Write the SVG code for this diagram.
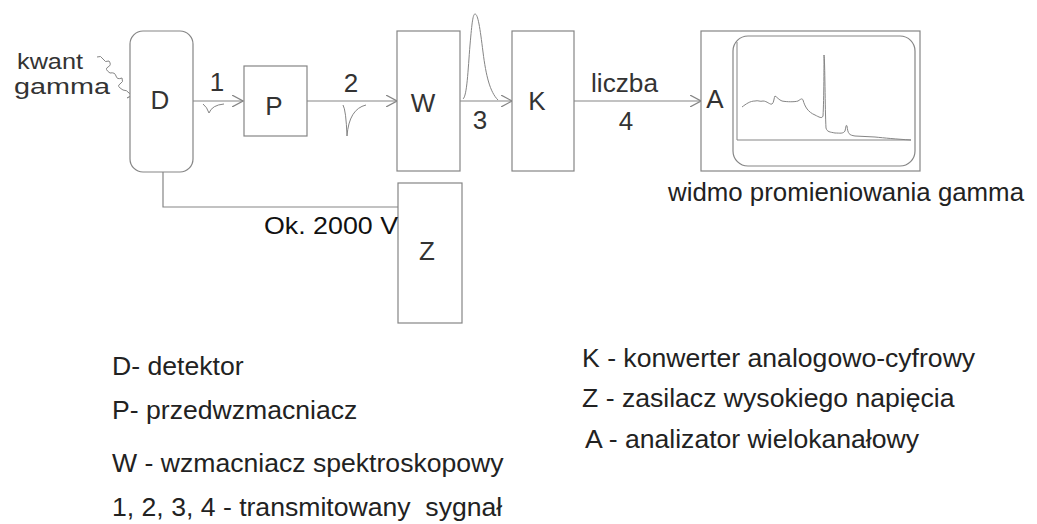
<svg xmlns="http://www.w3.org/2000/svg" width="1037" height="524" viewBox="0 0 1037 524">
  <style>
    .box { fill: #ffffff; stroke: #858585; stroke-width: 1.2; }
    .wire { fill: none; stroke: #858585; stroke-width: 1.2; }
    .sig { fill: none; stroke: #858585; stroke-width: 1; }
    .lbl { font-family: "Liberation Sans", Arial, sans-serif; font-size: 26px; fill: #333333; }
    .leg { font-family: "Liberation Sans", Arial, sans-serif; font-size: 26.6px; fill: #222222; }
  </style>
  <defs>
    <marker id="open" viewBox="0 0 12 12" refX="11" refY="6" markerWidth="12" markerHeight="12" markerUnits="userSpaceOnUse" orient="auto">
      <path d="M0,0 L11,6 L0,12" fill="none" stroke="#858585" stroke-width="1.2"/>
    </marker>
    <marker id="barb" viewBox="0 0 10 10" refX="9" refY="5" markerWidth="10" markerHeight="10" markerUnits="userSpaceOnUse" orient="auto">
      <path d="M9,5 L3,10 M9,5 L0,5" fill="none" stroke="#858585" stroke-width="1"/>
    </marker>
  </defs>
  <rect width="1037" height="524" fill="#ffffff"/>

  <!-- incoming gamma quantum -->
  <g id="gamma-in">
    <text class="lbl" x="17" y="69" style="font-size:22px" textLength="66" lengthAdjust="spacingAndGlyphs">kwant</text>
    <text class="lbl" x="14" y="94" style="font-size:22px" textLength="96" lengthAdjust="spacingAndGlyphs">gamma</text>
  </g>

  <!-- connectors -->
  <g id="connectors">
    <path class="sig" d="M97,57 q4,-2 6,2 t6,2 q3,4 -1,6 t2,6 q5,-1 6,3 t6,2 q2,4 -2,6 t3,6 q4,0 6,3 t6,1" marker-end="url(#barb)"/>
    <line class="wire" x1="193" y1="101" x2="243" y2="101" marker-end="url(#open)"/>
    <line class="wire" x1="307" y1="101" x2="397" y2="101" marker-end="url(#open)"/>
    <line class="wire" x1="460" y1="101" x2="512" y2="101" marker-end="url(#open)"/>
    <line class="wire" x1="574" y1="101" x2="701" y2="101" marker-end="url(#open)"/>
    <polyline class="wire" points="163,172 163,207 399,207"/>
  </g>

  <!-- signal shapes and numbers -->
  <g id="signals">
    <text class="lbl" x="217" y="91" text-anchor="middle">1</text>
    <path class="sig" d="M203,104 Q207,107 209,113 Q212,105 224,104"/>
    <text class="lbl" x="351" y="92" text-anchor="middle">2</text>
    <path class="sig" d="M343,105 Q346,110 347,136 Q349,109 366,105"/>
    <path class="sig" d="M463,99 C467,96 468,70 470,45 C472,22 473,14 475,14 C478,14 480,28 483,52 C486,76 490,92 498,100"/>
    <text class="lbl" x="480" y="129" text-anchor="middle">3</text>
    <text class="lbl" x="591" y="92" textLength="67" lengthAdjust="spacingAndGlyphs">liczba</text>
    <text class="lbl" x="626" y="130" text-anchor="middle">4</text>
  </g>

  <!-- D: detector -->
  <g id="D">
    <rect class="box" x="130" y="31" width="63" height="141" rx="13"/>
    <text class="lbl" x="160" y="109" text-anchor="middle">D</text>
  </g>

  <!-- P: preamplifier -->
  <g id="P">
    <rect class="box" x="244" y="66" width="63" height="70"/>
    <text class="lbl" x="274" y="115" text-anchor="middle">P</text>
  </g>

  <!-- W: spectroscopy amplifier -->
  <g id="W">
    <rect class="box" x="397" y="31" width="63" height="140"/>
    <text class="lbl" x="423" y="112" text-anchor="middle">W</text>
  </g>

  <!-- K: ADC -->
  <g id="K">
    <rect class="box" x="512" y="31" width="62" height="140"/>
    <text class="lbl" x="537" y="110" text-anchor="middle">K</text>
  </g>

  <!-- Z: high voltage supply -->
  <g id="Z">
    <rect class="box" x="398" y="183" width="64" height="140"/>
    <text class="lbl" x="427" y="260" text-anchor="middle">Z</text>
    <text x="264" y="234" font-family="Liberation Sans, Arial, sans-serif" font-size="24" fill="#111111" textLength="134" lengthAdjust="spacingAndGlyphs">Ok. 2000 V</text>
  </g>

  <!-- A: multichannel analyser with spectrum display -->
  <g id="A">
    <rect class="box" x="701" y="31" width="219" height="140"/>
    <text class="lbl" x="715" y="108" text-anchor="middle">A</text>
    <rect class="box" x="733" y="36" width="182" height="130" rx="15"/>
    <polyline class="sig" points="737,42 737,140 911,140"/>
    <path class="sig" d="M742,107 C746,104 750,101 755,101 C758,100 760,102 763,101 C767,101 770,105 772,104 C774,103 774,97 775,96 C777,97 779,100 782,101 C787,102 795,102 798,101 C801,99 802,98 803,100 C805,107 808,112 815,115 C819,117 822,119 823,116 C824,100 824,60 824,55 C825,60 825,110 826,128 C827,132 830,132 835,133 C840,133 843,134 845,131 C846,127 846,124 847,126 C848,134 849,135 855,136 C862,136 868,137 875,137 C885,138 895,139 911,140"/>
    <text x="668" y="201" font-family="Liberation Sans, Arial, sans-serif" font-size="25" fill="#222222" textLength="356" lengthAdjust="spacingAndGlyphs">widmo promieniowania gamma</text>
  </g>

  <!-- legend -->
  <g id="legend">
    <text class="leg" x="112" y="375">D- detektor</text>
    <text class="leg" x="112" y="419">P- przedwzmacniacz</text>
    <text class="leg" x="112" y="472">W - wzmacniacz spektroskopowy</text>
    <text class="leg" x="112" y="516" xml:space="preserve">1, 2, 3, 4 - transmitowany  sygnał</text>
    <text class="leg" x="582" y="367">K - konwerter analogowo-cyfrowy</text>
    <text class="leg" x="582" y="407">Z - zasilacz wysokiego napięcia</text>
    <text class="leg" x="585" y="448">A - analizator wielokanałowy</text>
  </g>
</svg>
